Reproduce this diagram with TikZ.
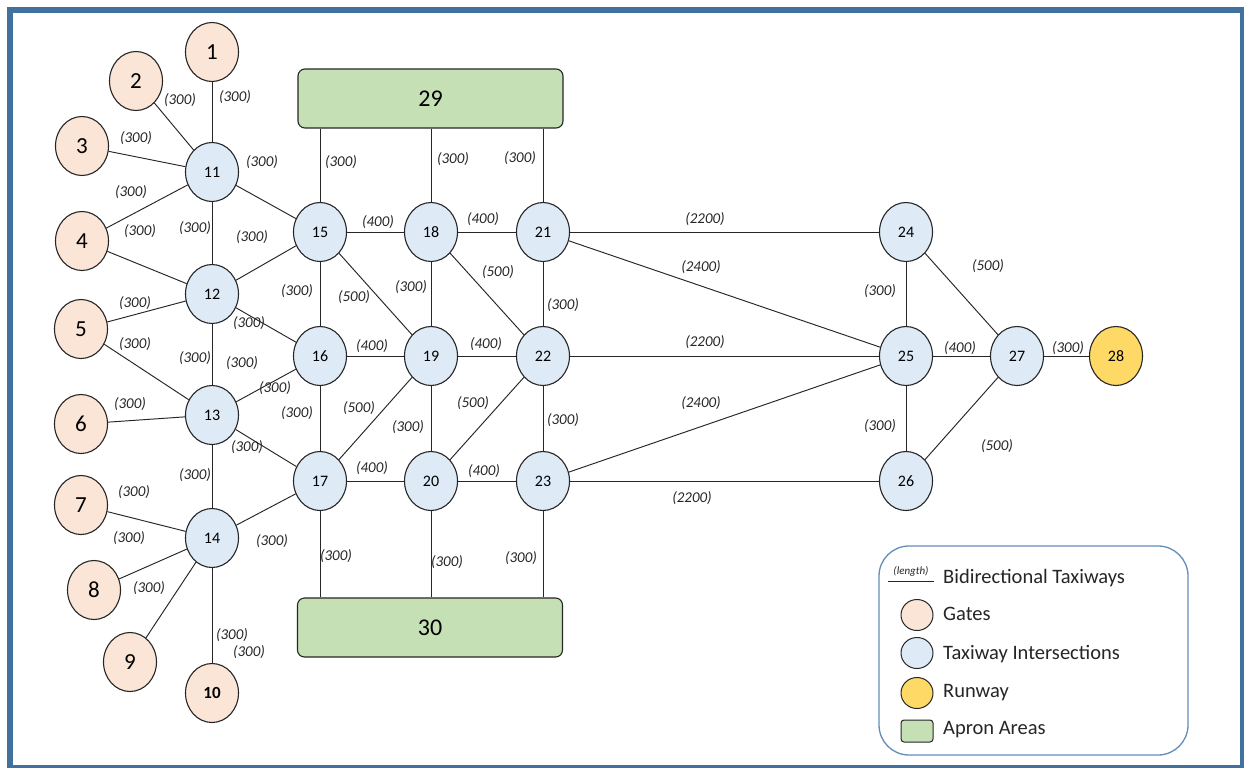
\documentclass[tikz,border=0pt]{standalone}
\usepackage{fontspec}
\setmainfont{Carlito}
\usetikzlibrary{shapes.geometric}
\definecolor{frameblue}{RGB}{65,113,156}
\definecolor{gatefill}{RGB}{251,229,214}
\definecolor{taxifill}{RGB}{222,235,247}
\definecolor{runfill}{RGB}{255,217,102}
\definecolor{apronfill}{RGB}{197,224,180}
\definecolor{edgecol}{RGB}{38,38,38}
\definecolor{legborder}{RGB}{100,140,185}
\begin{document}
\begin{tikzpicture}[x=1pt,y=-1pt,
 gate/.style={ellipse, draw=edgecol, line width=1.1pt, fill=gatefill, minimum width=53pt, minimum height=59pt, inner sep=0pt, font=\fontsize{23}{23}\selectfont},
 taxi/.style={ellipse, draw=edgecol, line width=1.1pt, fill=taxifill, minimum width=53pt, minimum height=59pt, inner sep=0pt, font=\fontsize{16}{16}\selectfont},
 runway/.style={taxi, fill=runfill},
 apron/.style={rectangle, rounded corners=7pt, draw=edgecol, line width=1.1pt, fill=apronfill, minimum width=265pt, minimum height=59pt, inner sep=0pt, font=\fontsize{24}{24}\selectfont},
 lbl/.style={font=\fontsize{15}{15}\selectfont\itshape, text=edgecol, inner sep=0pt},
 taxiway/.style={draw=edgecol, line width=0.95pt},
 legsym/.style={ellipse, draw=edgecol, line width=1pt, minimum width=32pt, minimum height=31pt, inner sep=0pt},
 legtext/.style={anchor=west, font=\fontsize{20.5}{20.5}\selectfont, text=edgecol, inner sep=0pt},
]
\useasboundingbox (0,0) rectangle (1249,768);
\fill[frameblue] (7,7) rectangle (1244,768);
\fill[white] (13,13) rectangle (1240,765);

% gates
\node[gate] (n1) at (212,52) {1};
\node[gate] (n2) at (136,81) {2};
\node[gate] (n3) at (82,146) {3};
\node[gate] (n4) at (82,241) {4};
\node[gate] (n5) at (81,329) {5};
\node[gate] (n6) at (81,424) {6};
\node[gate] (n7) at (81,505) {7};
\node[gate] (n8) at (94,590) {8};
\node[gate] (n9) at (130,662) {9};
\node[gate, font=\fontsize{17}{17}\selectfont\bfseries] (n10) at (212,693) {10};
% intersections
\node[taxi] (n11) at (212,172) {11};
\node[taxi] (n12) at (212,294) {12};
\node[taxi] (n13) at (212,415) {13};
\node[taxi] (n14) at (212,538) {14};
\node[taxi] (n15) at (320,232) {15};
\node[taxi] (n16) at (320,356) {16};
\node[taxi] (n17) at (320,481) {17};
\node[taxi] (n18) at (431,232) {18};
\node[taxi] (n19) at (431,356) {19};
\node[taxi] (n20) at (431,481) {20};
\node[taxi] (n21) at (543,232) {21};
\node[taxi] (n22) at (543,356) {22};
\node[taxi] (n23) at (543,481) {23};
\node[taxi] (n24) at (906,232) {24};
\node[taxi] (n25) at (906,356) {25};
\node[taxi] (n26) at (906,481) {26};
\node[taxi] (n27) at (1017,356) {27};
\node[runway] (n28) at (1116,356) {28};
% aprons
\node[apron] (n29) at (430.5,98.5) {29};
\node[apron] (n30) at (430,627.5) {30};

% taxiways
\foreach \a/\b in {1/11,2/11,3/11,4/11,4/12,11/12,11/15,12/15,12/16,5/12,5/13,12/13,13/16,6/13,13/17,13/14,7/14,8/14,9/14,14/17,10/14,15/16,15/18,15/19,18/19,18/21,18/22,21/22,16/19,19/22,16/17,17/19,19/20,20/22,22/23,17/20,20/23,21/24,21/25,22/25,23/25,23/26,24/25,25/26,24/27,25/27,26/27,27/28}
  \draw[taxiway] (n\a) -- (n\b);
\foreach \b in {15,18,21}
  \draw[taxiway] (n29.south -| n\b) -- (n\b);
\foreach \b in {17,20,23}
  \draw[taxiway] (n30.north -| n\b) -- (n\b);

% labels
\foreach \p [count=\i] in {(235,97),(180,100),(136,138),(131,192),(140,231),(195,228),(262,162),(252,237),(297,291),(249,323),(135,303),(135,344),(195,358),(242,363),(275,388),(297,413),(130,404),(247,447),(195,475),(134,492),(129,538),(149,588),(272,541),(232,635),(249,652),(341,162),(453,159),(520,158),(411,287),(563,305),(408,427),(563,420),(336,556),(447,562),(521,558),(880,291),(880,426),(1068,348)}
  \node[lbl] (la\i) at \p {(300)};
\foreach \p [count=\i] in {(378,222),(483,219),(372,346),(486,344),(372,468),(484,471),(960,348)}
  \node[lbl] (lb\i) at \p {(400)};
\foreach \p [count=\i] in {(354,297),(498,272),(359,408),(473,403),(988,266),(997,446)}
  \node[lbl] (lc\i) at \p {(500)};
\foreach \p [count=\i] in {(705,219),(705,342),(692,498)}
  \node[lbl] (ld\i) at \p {(2200)};
\foreach \p [count=\i] in {(701,267),(701,403)}
  \node[lbl] (le\i) at \p {(2400)};

% legend
\draw[legborder, line width=1.3pt, rounded corners=30pt] (879,546) rectangle (1188,755);
\coordinate (ls1) at (888,581);
\coordinate (ls2) at (934,581);
\draw[edgecol, line width=1pt] (ls1) -- (ls2);
\node[font=\fontsize{11}{11}\selectfont\itshape, text=edgecol, inner sep=0pt] (lglen) at (911,571) {(length)};
\node[legtext] (lg1) at (943,578) {Bidirectional Taxiways};
\node[legsym, fill=gatefill] (lgs2) at (917,615) {};
\node[legtext] (lg2) at (943,614) {Gates};
\node[legsym, fill=taxifill] (lgs3) at (917,653) {};
\node[legtext] (lg3) at (943,654) {Taxiway Intersections};
\node[legsym, fill=runfill] (lgs4) at (917,693) {};
\node[legtext] (lg4) at (943,693) {Runway};
\node[rectangle, rounded corners=3pt, draw=edgecol, line width=1pt, fill=apronfill, minimum width=32pt, minimum height=22pt, inner sep=0pt] (lgs5) at (917,731) {};
\node[legtext] (lg5) at (943,730) {Apron Areas};
\end{tikzpicture}
\end{document}
